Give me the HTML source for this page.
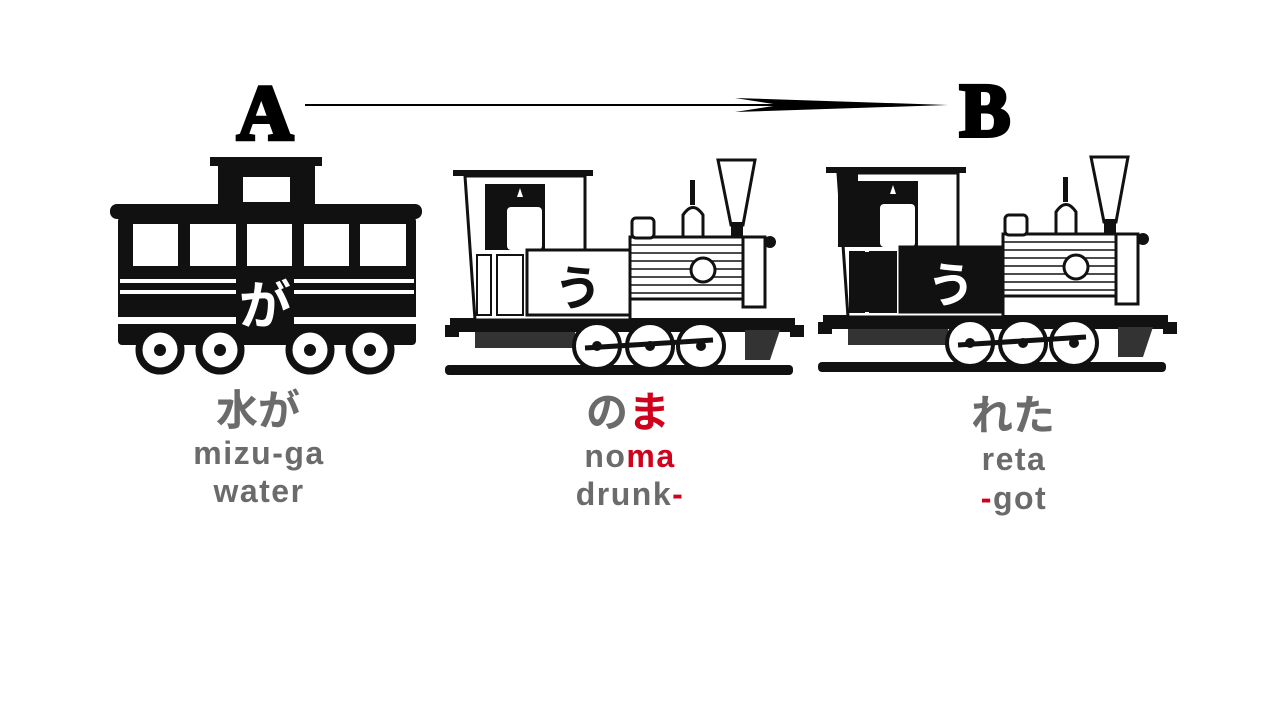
<!DOCTYPE html>
<html><head><meta charset="utf-8"><style>
body{margin:0;background:#fff;width:1280px;height:720px;overflow:hidden}
svg{display:block}
.jp{font-family:"Liberation Sans","Noto Sans CJK JP",sans-serif;font-weight:bold;fill:#6b6b6b}
.lat{font-family:"Liberation Sans",sans-serif;font-weight:bold;fill:#6b6b6b;letter-spacing:1.5px}
</style></head><body>
<svg width="1280" height="720" viewBox="0 0 1280 720">
<defs>
<g id="loco">
  <rect x="5" y="318" width="345" height="14" fill="#111"/>
  <rect x="0" y="325" width="14" height="12" fill="#111"/>
  <rect x="345" y="325" width="14" height="12" fill="#111"/>
  <rect x="8" y="170" width="140" height="6" fill="#111"/>
  <path d="M20 176 H140 V250 H185 V320 H30 Z" fill="#fff" stroke="#111" stroke-width="3"/>
  <path d="M40 184 H100 V250 H40 Z" fill="#111"/>
  <rect x="62" y="207" width="35" height="43" rx="4" fill="#fff"/>
  <path d="M72 197 L75 188 L78 197 Z" fill="#fff"/>
  <rect x="32" y="255" width="14" height="60" fill="none" stroke="#111" stroke-width="2"/>
  <rect x="52" y="255" width="26" height="60" fill="none" stroke="#111" stroke-width="2"/>
  <rect class="panel" x="82" y="250" width="103" height="65" fill="#fff" stroke="#111" stroke-width="3"/>
  <rect x="185" y="237" width="130" height="62" fill="#fff" stroke="#111" stroke-width="3"/>
  <g stroke="#111" stroke-width="1.5">
    <line x1="185" y1="245" x2="315" y2="245"/><line x1="185" y1="253" x2="315" y2="253"/>
    <line x1="185" y1="261" x2="315" y2="261"/><line x1="185" y1="269" x2="315" y2="269"/>
    <line x1="185" y1="277" x2="315" y2="277"/><line x1="185" y1="285" x2="315" y2="285"/>
    <line x1="185" y1="293" x2="315" y2="293"/>
  </g>
  <circle cx="258" cy="270" r="12" fill="#fff" stroke="#111" stroke-width="3"/>
  <rect x="298" y="237" width="22" height="70" fill="#fff" stroke="#111" stroke-width="3"/>
  <path d="M273 160 L310 160 L298 225 L286 225 Z" fill="#fff" stroke="#111" stroke-width="3"/>
  <rect x="286" y="222" width="12" height="16" fill="#111"/>
  <path d="M238 237 V215 Q248 200 258 215 V237 Z" fill="#fff" stroke="#111" stroke-width="3"/>
  <rect x="245" y="180" width="5" height="25" fill="#111"/>
  <rect x="187" y="218" width="22" height="20" rx="4" fill="#fff" stroke="#111" stroke-width="3"/>
  <circle cx="325" cy="242" r="6" fill="#111"/>
  <rect x="0" y="365" width="348" height="10" rx="4" fill="#111"/>
  <path d="M30 332 L130 332 L130 348 L30 348 Z" fill="#333"/>
  <path d="M300 330 L335 330 L325 360 L300 360 Z" fill="#333"/>
  <g fill="#fff" stroke="#111" stroke-width="4">
    <circle cx="152" cy="346" r="23"/><circle cx="205" cy="346" r="23"/><circle cx="256" cy="346" r="23"/>
  </g>
  <g fill="#111"><circle cx="152" cy="346" r="5"/><circle cx="205" cy="346" r="5"/><circle cx="256" cy="346" r="5"/></g>
  <path d="M140 348 L268 340" stroke="#111" stroke-width="5"/>
</g>
</defs>

<text x="265" y="139" text-anchor="middle" font-family="Liberation Serif,serif" font-weight="bold" font-size="78" fill="#000" stroke="#000" stroke-width="4">A</text>
<text x="985" y="136" text-anchor="middle" font-family="Liberation Serif,serif" font-weight="bold" font-size="76" fill="#000" stroke="#000" stroke-width="4">B</text>
<g>
  <line x1="305" y1="105" x2="900" y2="105" stroke="#000" stroke-width="2"/>
  <path d="M735 98 L948 105 L735 112 L780 105 Z" fill="#000"/>
</g>

<g>
  <rect x="210" y="157" width="112" height="9" fill="#111"/>
  <rect x="218" y="165" width="97" height="42" fill="#111"/>
  <rect x="243" y="177" width="47" height="25" fill="#fff"/>
  <rect x="110" y="204" width="312" height="15" rx="7" fill="#111"/>
  <rect x="118" y="217" width="298" height="128" rx="4" fill="#111"/>
  <g fill="#fff">
    <rect x="133" y="224" width="45" height="42"/><rect x="190" y="224" width="46" height="42"/>
    <rect x="247" y="224" width="45" height="42"/><rect x="304" y="224" width="45" height="42"/>
    <rect x="360" y="224" width="46" height="42"/>
    <rect x="120" y="279" width="294" height="4"/><rect x="120" y="290" width="294" height="4"/>
    <rect x="110" y="317" width="312" height="7" rx="3"/>
  </g>
  <rect x="236" y="272" width="58" height="60" fill="#111"/>
  <text x="265" y="324" text-anchor="middle" font-family="Liberation Sans,Noto Sans CJK JP,sans-serif" font-weight="bold" font-size="52" fill="#fff">が</text>
  <g fill="#fff" stroke="#111" stroke-width="7">
    <circle cx="160" cy="350" r="21"/><circle cx="220" cy="350" r="21"/>
    <circle cx="310" cy="350" r="21"/><circle cx="370" cy="350" r="21"/>
  </g>
  <g fill="#111"><circle cx="160" cy="350" r="6"/><circle cx="220" cy="350" r="6"/><circle cx="310" cy="350" r="6"/><circle cx="370" cy="350" r="6"/></g>
</g>

<g transform="translate(445,0)">
  <use href="#loco"/>
  <text x="133" y="305" text-anchor="middle" font-family="Liberation Sans,Noto Sans CJK JP,sans-serif" font-weight="bold" font-size="48" fill="#111">う</text>
</g>
<g transform="translate(818,-3)">
  <use href="#loco"/>
  <rect x="20" y="176" width="20" height="74" fill="#111"/>
  <rect x="82" y="250" width="103" height="65" fill="#111"/>
  <rect x="32" y="255" width="46" height="60" fill="#111"/>
  <text x="133" y="305" text-anchor="middle" font-family="Liberation Sans,Noto Sans CJK JP,sans-serif" font-weight="bold" font-size="48" fill="#fff">う</text>
</g>

<g>
  <text class="jp" x="258" y="425" text-anchor="middle" font-size="42">水が</text>
  <text class="lat" x="259" y="464" text-anchor="middle" font-size="32">mizu-ga</text>
  <text class="lat" x="259" y="502" text-anchor="middle" font-size="32">water</text>
</g>
<g>
  <text class="jp" x="628" y="427" text-anchor="middle" font-size="42">の<tspan fill="#d0021b">ま</tspan></text>
  <text class="lat" x="630" y="467" text-anchor="middle" font-size="32">no<tspan fill="#d0021b">ma</tspan></text>
  <text class="lat" x="630" y="505" text-anchor="middle" font-size="32">drunk<tspan fill="#d0021b">-</tspan></text>
</g>
<g>
  <text class="jp" x="1013" y="430" text-anchor="middle" font-size="42">れた</text>
  <text class="lat" x="1014" y="470" text-anchor="middle" font-size="32">reta</text>
  <text class="lat" x="1014" y="509" text-anchor="middle" font-size="32"><tspan fill="#d0021b">-</tspan>got</text>
</g>
</svg>
</body></html>
